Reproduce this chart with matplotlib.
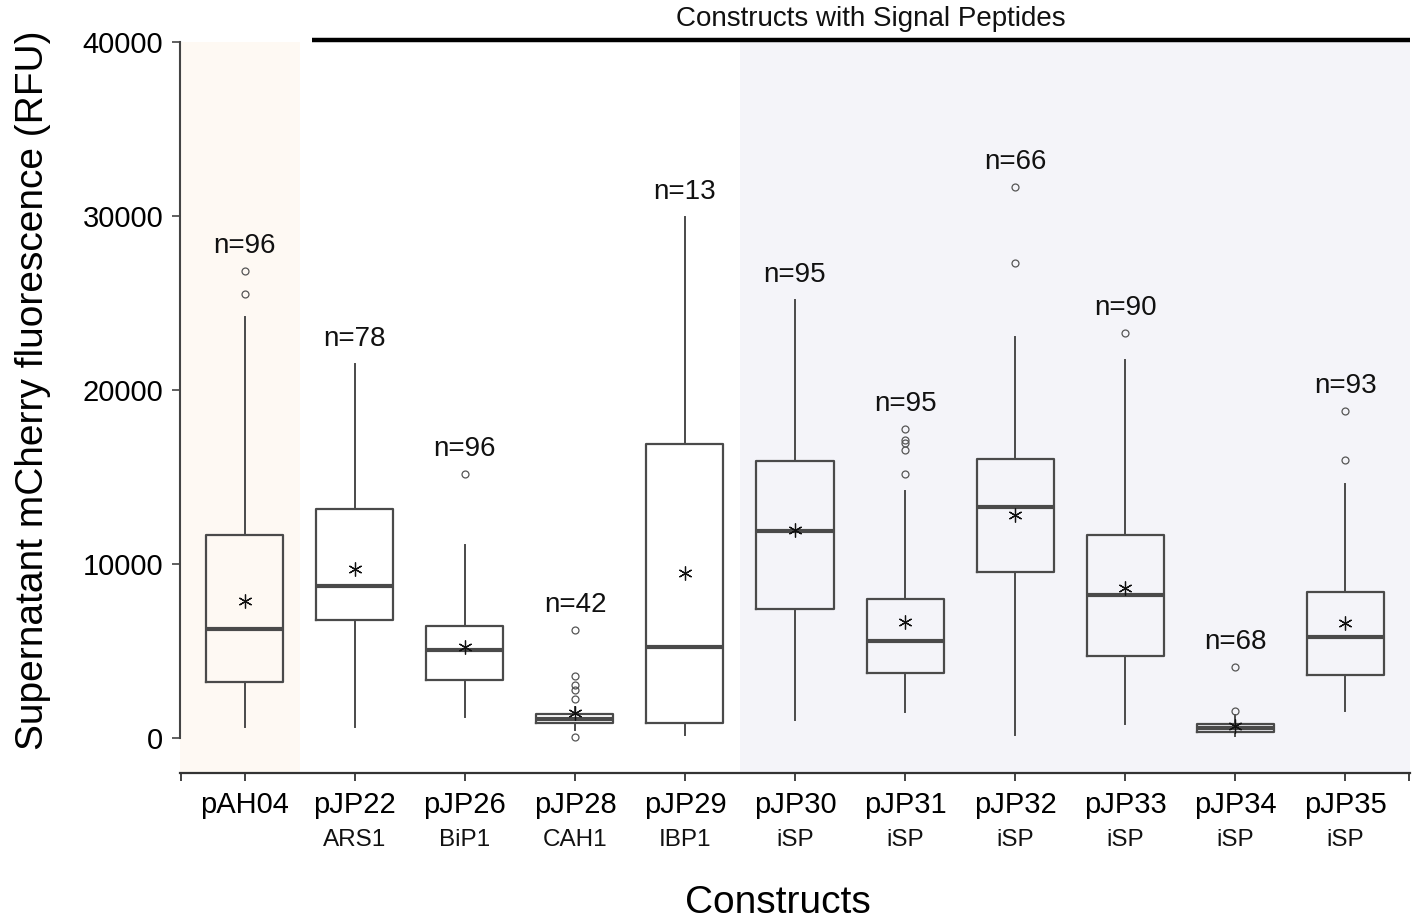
import matplotlib
matplotlib.use("Agg")
import matplotlib.pyplot as plt
import matplotlib.transforms as mtransforms

plt.rcParams['font.family'] = ['Liberation Sans', 'DejaVu Sans']

# ---------------- data ----------------
constructs = ['pAH04', 'pJP22', 'pJP26', 'pJP28', 'pJP29', 'pJP30',
              'pJP31', 'pJP32', 'pJP33', 'pJP34', 'pJP35']
signal_peptides = ['', 'ARS1', 'BiP1', 'CAH1', 'IBP1', 'iSP',
                   'iSP', 'iSP', 'iSP', 'iSP', 'iSP']
n_counts = [96, 78, 96, 42, 13, 95, 95, 66, 90, 68, 93]
q1 = [3230, 6780, 3330, 860, 850, 7400, 3750, 9560, 4710, 330, 3620]
medians = [6250, 8760, 5090, 1090, 5250, 11900, 5590, 13290, 8220, 560, 5800]
q3 = [11670, 13160, 6450, 1380, 16910, 15920, 7970, 16020, 11670, 805, 8410]
whisker_low = [650, 650, 1190, 460, 170, 1030, 1480, 170, 800, 115, 1550]
whisker_high = [24190, 21490, 11090, 1800, 29940, 25170, 14180, 23060, 21720, 1320, 14600]
means = [7900, 9710, 5250, 1440, 9470, 11950, 6650, 12820, 8640, 690, 6610]
outliers = [
    [25520, 26840],
    [],
    [15170],
    [6210, 3580, 3050, 2760, 2280, 75],
    [],
    [],
    [17740, 17160, 16970, 16550, 15170],
    [31680, 27280],
    [23260],
    [4100, 1570],
    [18810, 15980],
]
y_ticks = [0, 10000, 20000, 30000, 40000]

# ---------------- figure ----------------
fig = plt.figure(figsize=(14.12, 9.24), dpi=100)
ax = fig.add_axes([180 / 1412, 1 - 773 / 924, 1230 / 1412, (773 - 42) / 924])

xlim = (-0.59, 10.59)
ax.set_xlim(*xlim)
ax.set_ylim(-2000, 40000)

# shaded regions
ax.axvspan(xlim[0], 0.5, color='#FEF9F3', zorder=0, lw=0)
ax.axvspan(4.5, xlim[1], color='#F4F4F9', zorder=0, lw=0)

stats = []
for i in range(len(constructs)):
    stats.append(dict(med=medians[i], q1=q1[i], q3=q3[i],
                      whislo=whisker_low[i], whishi=whisker_high[i],
                      mean=means[i], fliers=outliers[i], label=constructs[i]))

edge = '#4a4a4a'
ax.bxp(stats, positions=list(range(len(constructs))), widths=0.7,
       showmeans=True, showcaps=False, patch_artist=False,
       boxprops=dict(color=edge, linewidth=1.6),
       whiskerprops=dict(color=edge, linewidth=1.4),
       medianprops=dict(color=edge, linewidth=3.0),
       meanprops=dict(marker=(6, 2, 0), markeredgecolor='#111111',
                      markerfacecolor='#111111', markersize=10, markeredgewidth=0.9),
       flierprops=dict(marker='o', markerfacecolor='none', markeredgecolor='#555555',
                       markersize=5, markeredgewidth=0.9))

# n labels
for i in range(len(constructs)):
    top = max([whisker_high[i]] + outliers[i])
    ax.annotate(f'n={n_counts[i]}', xy=(i, top), xytext=(0, 13),
                textcoords='offset points', ha='center', va='baseline',
                fontsize=20, color='#111111')

# axes styling
for s in ['top', 'right']:
    ax.spines[s].set_visible(False)
ax.spines['left'].set_bounds(0, 40000)
ax.spines['left'].set_color('#444444')
ax.spines['left'].set_linewidth(1.5)
ax.spines['bottom'].set_color('#333333')
ax.spines['bottom'].set_linewidth(1.6)

ax.set_yticks(y_ticks)
ax.set_yticklabels([str(v) for v in y_ticks], fontsize=21)
ax.tick_params(axis='y', length=6, width=1.2, color='#444444', pad=6)

ax.set_xticks(list(range(len(constructs))))
ax.set_xticklabels(constructs, fontsize=21)
ax.set_xticks([xlim[0] + 0.005, xlim[1] - 0.005], minor=True)
ax.tick_params(axis='x', which='both', length=6, width=1.3, color='#333333', pad=7)

trans = mtransforms.blended_transform_factory(ax.transData, ax.transAxes)
for i, sp in enumerate(signal_peptides):
    if sp:
        ax.text(i, -0.0999, sp, transform=trans, ha='center', va='baseline',
                fontsize=17.5, color='#111111')

ax.set_ylabel('Supernatant mCherry fluorescence (RFU)', fontsize=28)
ax.yaxis.set_label_coords(-0.105, 0.524)
ax.set_xlabel('Constructs', fontsize=28)
ax.xaxis.set_label_coords(0.486, -0.153)

# signal-peptide bracket line and label
ax.plot([0.61, xlim[1]], [40120, 40120], color='black', lw=3.2,
        clip_on=False, solid_capstyle='butt')
ax.text(5.69, 41300, 'Constructs with Signal Peptides', ha='center',
        va='center', fontsize=20, color='#111111')

fig.savefig('out.png', dpi=100)
